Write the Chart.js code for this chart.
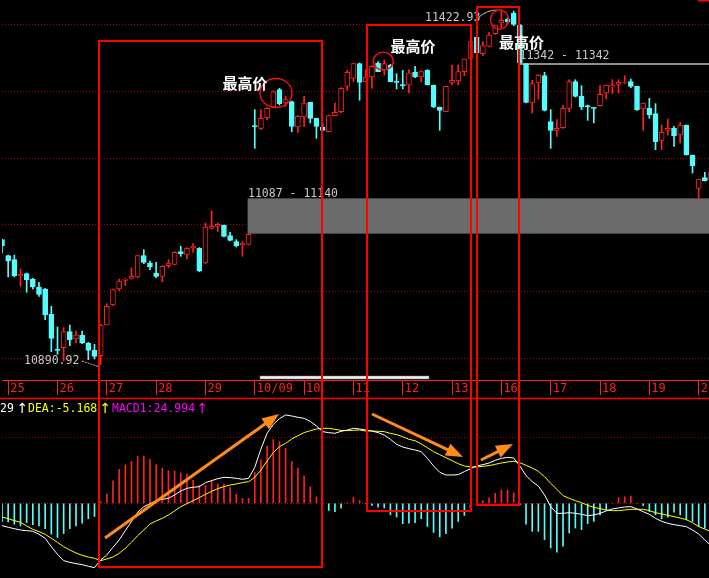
<!DOCTYPE html>
<html>
<head>
<meta charset="utf-8">
<script src="https://cdn.jsdelivr.net/npm/chart.js@4.4.1/dist/chart.umd.min.js"></script>
<style>
html, body { margin: 0; padding: 0; background: #000; overflow: hidden; }
#wrap { position: relative; width: 709px; height: 578px; overflow: hidden; background: #000; }
#wrap canvas { position: absolute; left: 0; }
#marks { position: absolute; left: 0; top: 0; }
.mono { font-family: "DejaVu Sans Mono", monospace; font-size: 11.5px; }
.up { font-family: "DejaVu Sans", sans-serif; font-size: 14px; }
.hi { font-family: "Noto Sans CJK SC", sans-serif; font-size: 15px; font-weight: bold; fill: #fff; }
</style>
</head>
<body>
<div id="wrap">
  <canvas id="priceChart" width="711" height="398" style="top:0"></canvas>
  <canvas id="macdChart" width="711" height="180" style="top:398px"></canvas>
  <svg id="marks" width="709" height="578" viewBox="0 0 709 578">
    <!-- 缺口 / 极值 标注 -->
    <text class="mono" x="248" y="196.5" fill="#c8c8c8">11087 - 11140</text>
    <text class="mono" x="519.5" y="59" fill="#c8c8c8">11342 - 11342</text>
    <text class="mono" x="425" y="20.5" fill="#c8c8c8">11422.93</text>
    <path d="M479,17 Q487,10 497,10" fill="none" stroke="#bbb" stroke-width="1"/>
    <text class="mono" x="24" y="364" fill="#c8c8c8">10890.92</text>
    <line x1="82" y1="361" x2="98" y2="366.5" stroke="#bbb" stroke-width="1" stroke-dasharray="2,1"/>
    <!-- 滚动条 -->
    <rect x="260" y="376" width="169" height="3" fill="#eee" stroke="#888" stroke-width="0.5"/>
    <!-- 分隔线 -->
    <line x1="0" y1="398.5" x2="709" y2="398.5" stroke="#ff0000" stroke-width="1.5"/>
    <rect x="698" y="0" width="11" height="1.5" fill="#ff0000"/>
    <!-- MACD 指标文字 -->
    <text class="mono" x="0" y="411.5" fill="#fff">29</text>
    <text class="up" x="16.5" y="412.5" fill="#fff">↑</text>
    <text class="mono" x="28" y="411.5" fill="#ffff00">DEA:-5.168</text>
    <text class="up" x="99.5" y="412.5" fill="#ffff00">↑</text>
    <text class="mono" x="112" y="411.5" fill="#ff00ff">MACD1:24.994</text>
    <text class="up" x="196.5" y="412.5" fill="#ff00ff">↑</text>
    <!-- 框 -->
    <g fill="none" stroke="#ff0000" stroke-width="2">
      <rect x="99" y="41" width="223" height="526"/>
      <rect x="367" y="25" width="104" height="486"/>
      <rect x="477" y="7" width="42" height="498"/>
    </g>
    <g fill="none" stroke="#e81010" stroke-width="1.5">
      <ellipse cx="276" cy="93" rx="16" ry="14.5"/>
      <ellipse cx="383.3" cy="61.2" rx="10" ry="9"/>
      <ellipse cx="499.5" cy="19.7" rx="9" ry="9.7"/>
    </g>
    <text class="hi" x="222.5" y="89">最高价</text>
    <text class="hi" x="390.5" y="51.5">最高价</text>
    <text class="hi" x="499" y="47.5">最高价</text>
    <g id="arrows"></g>
  </svg>
</div>
<script>
// 日期 (每天 8 根K线)
const days = ['25', '26', '27', '28', '29', '10/09', '10', '11', '12', '13', '16', '17', '18', '19', '20'];
const firstDay = 1;
const perDay = 8;

// K线数据
const open = [
  11078, 11054, 11048, 11024, 11027, 11019, 11007, 11004, 10966, 10914,
  10916, 10940, 10929, 10935, 10923, 10912, 10904, 10950, 10980, 11004,
  11017, 11020, 11022, 11054, 11043, 11028, 11023, 11039, 11041, 11060,
  11056, 11066, 11065, 11043, 11095, 11098, 11100, 11084, 11075, 11070,
  11071, 11249, 11245, 11261, 11277, 11303, 11283, 11285, 11247, 11262,
  11284, 11260, 11247, 11240, 11264, 11270, 11308, 11320, 11342, 11315,
  11322, 11343, 11333, 11340, 11315, 11310, 11310, 11329, 11322, 11332,
  11310, 11277, 11270, 11313, 11316, 11330, 11350, 11382, 11357, 11368,
  11387, 11403, 11409, 11418, 11400, 11342, 11283, 11313, 11324, 11255,
  11242, 11246, 11275, 11315, 11293, 11279, 11276, 11279, 11298, 11307,
  11311, 11313, 11315, 11308, 11274, 11275, 11267, 11227, 11242, 11245,
  11235, 11250, 11205, 11155, 11171, 11168
];
const high = [
  11079, 11055, 11055, 11034, 11028, 11020, 11014, 11005, 10978, 10947,
  10946, 10950, 10941, 10941, 10924, 10921, 10951, 10982, 11004, 11019,
  11020, 11036, 11055, 11063, 11046, 11044, 11039, 11048, 11060, 11068,
  11066, 11072, 11066, 11103, 11121, 11103, 11100, 11089, 11078, 11075,
  11087, 11273, 11273, 11276, 11301, 11305, 11293, 11286, 11264, 11293,
  11284, 11260, 11253, 11265, 11283, 11306, 11332, 11343, 11343, 11333,
  11339, 11345, 11348, 11341, 11327, 11332, 11333, 11338, 11331, 11333,
  11310, 11277, 11308, 11340, 11340, 11349, 11376, 11382, 11375, 11389,
  11399, 11422.93, 11411, 11421, 11401, 11342, 11317, 11326, 11329, 11273,
  11258, 11280, 11318, 11318, 11309, 11280, 11276, 11309, 11310, 11318,
  11318, 11324, 11319, 11308, 11283, 11290, 11282, 11250, 11259, 11248,
  11254, 11250, 11205, 11169, 11179, 11179
];
const low = [
  11058, 11022, 11022, 11008, 10999, 11004, 10993, 10958, 10910, 10906,
  10896, 10919, 10923, 10922, 10898, 10899, 10890.92, 10950, 10979, 11002,
  11009, 11019, 11021, 11042, 11033, 11021, 11015, 11036, 11040, 11053,
  11049, 11059, 11030, 11042, 11094, 11090, 11082, 11076, 11067, 11053,
  11070, 11215, 11243, 11258, 11276, 11280, 11278, 11240, 11239, 11248,
  11253, 11230, 11241, 11240, 11264, 11268, 11302, 11315, 11287, 11315,
  11305, 11330, 11325, 11315, 11304, 11304, 11298, 11321, 11315, 11310,
  11276, 11242, 11270, 11310, 11310, 11324, 11350, 11357, 11354, 11367,
  11386, 11395, 11402, 11399, 11342, 11283, 11268, 11289, 11271, 11215,
  11233, 11245, 11270, 11292, 11273, 11257, 11253, 11278, 11289, 11297,
  11298, 11312, 11306, 11272, 11242, 11260, 11213, 11213, 11235, 11218,
  11223, 11205, 11178, 11140, 11166, 11166
];
const close = [
  11069, 11046, 11024, 11026, 11018, 11007, 10996, 10965, 10930, 10912,
  10940, 10928, 10935, 10923, 10912, 10903, 10950, 10978, 11003, 11016,
  11019, 11023, 11054, 11044, 11037, 11023, 11038, 11043, 11059, 11057,
  11065, 11068, 11031, 11097, 11098, 11101, 11083, 11077, 11069, 11073,
  11086, 11247, 11260, 11275, 11300, 11282, 11288, 11248, 11263, 11283,
  11260, 11248, 11242, 11264, 11269, 11305, 11329, 11342, 11314, 11322,
  11338, 11330, 11342, 11315, 11314, 11309, 11328, 11322, 11330, 11310,
  11277, 11272, 11308, 11317, 11330, 11349, 11375, 11358, 11369, 11385,
  11399, 11407, 11405, 11401, 11343, 11284, 11312, 11325, 11272, 11242,
  11245, 11275, 11315, 11293, 11277, 11277, 11275, 11296, 11310, 11309,
  11314, 11314, 11308, 11273, 11283, 11265, 11225, 11239, 11245, 11234,
  11250, 11205, 11189, 11169, 11166, 11179
];

// MACD
const dif = [
  -4.06, -4.36, -4.61, -4.85, -4.97, -5.09, -5.64, -6.36, -7.88, -9.27,
  -10.42, -10.73, -10.97, -11.15, -11.45, -11.70, -10.30, -9.39, -8.00, -6.67,
  -4.97, -3.33, -1.64, -0.61, -0.06, 0.48, 0.73, 0.91, 1.52, 2.24,
  2.73, 2.91, 3.03, 3.76, 4.12, 4.48, 4.73, 4.67, 4.55, 4.36,
  4.55, 6.55, 9.88, 12.73, 14.36, 15.39, 16.06, 15.88, 15.64, 15.45,
  14.91, 14.06, 13.03, 12.85, 12.73, 13.09, 13.33, 13.64, 13.52, 13.33,
  13.15, 12.85, 12.42, 11.64, 10.73, 10.24, 9.94, 9.70, 9.39, 8.18,
  6.79, 5.64, 5.15, 5.15, 5.21, 5.76, 6.30, 6.79, 7.03, 7.33,
  7.82, 8.18, 8.36, 8.24, 6.79, 5.03, 3.94, 3.15, 1.52, -0.61,
  -1.82, -1.82, -1.70, -1.82, -2.00, -2.24, -2.12, -1.82, -1.39, -1.03,
  -0.85, -0.67, -0.61, -1.03, -1.52, -2.00, -2.73, -3.27, -3.64, -3.88,
  -4.06, -4.24, -4.85, -5.58, -6.67, -7.70
];
const dea = [
  -2.48, -2.79, -3.15, -3.45, -4.12, -4.73, -5.15, -5.64, -6.36, -7.09,
  -7.88, -8.48, -9.03, -9.45, -9.76, -10.00, -10.42, -10.12, -9.76, -9.09,
  -8.18, -7.09, -5.88, -4.85, -3.76, -3.21, -2.73, -2.12, -1.39, -0.61,
  -0.06, 0.48, 1.03, 1.64, 2.18, 2.67, 3.03, 3.33, 3.52, 3.76,
  3.94, 4.73, 6.06, 7.70, 9.21, 10.30, 10.91, 11.70, 12.30, 12.85,
  13.21, 13.52, 13.64, 13.64, 13.45, 13.27, 13.21, 13.27, 13.33, 13.15,
  13.15, 13.09, 13.03, 12.73, 12.48, 12.12, 11.64, 11.39, 10.79, 10.12,
  9.39, 8.85, 8.30, 7.76, 7.21, 6.79, 6.61, 6.61, 6.73, 6.85,
  7.09, 7.33, 7.52, 7.64, 7.39, 6.91, 6.42, 5.82, 4.85, 3.64,
  2.55, 1.39, 0.91, 0.48, 0.12, -0.36, -0.73, -0.97, -1.21, -1.33,
  -1.33, -1.21, -1.09, -1.09, -1.09, -1.33, -1.70, -1.94, -2.18, -2.42,
  -2.67, -2.97, -3.52, -4.24, -4.67, -5.15
];
const macd = [
  -3.4, -3.4, -3.8, -4.1, -3.5, -3.9, -4.1, -4.6, -5.6, -6.2,
  -5.5, -4.6, -4.1, -3.6, -2.8, -2.4, 0.3, 1.7, 4.1, 6.2,
  7.0, 7.6, 8.6, 8.6, 8.0, 7.0, 6.4, 5.9, 5.9, 5.5,
  5.3, 4.2, 3.3, 3.3, 4.2, 3.5, 3.5, 2.9, 1.7, 0.9,
  0.9, 5.6, 7.9, 10.4, 11.6, 11.2, 10.0, 7.6, 6.4, 5.0,
  3.0, 1.2, 0.2, -1.3, -1.5, -0.9, 0.1, 1.1, 0.5, -0.1,
  -0.4, -0.7, -0.85, -2.1, -2.5, -3.7, -3.6, -3.5, -2.8, -4.2,
  -5.3, -6.1, -5.5, -4.5, -3.3, -2.2, -0.85, 0.2, 0.5, 1.0,
  1.8, 2.4, 2.4, 1.9, -0.3, -3.8, -5.1, -5.1, -6.6, -8.1,
  -8.9, -7.8, -5.4, -4.5, -4.8, -3.7, -3.3, -2.1, -1.2, 0.1,
  1.0, 1.2, 1.3, 0.1, -0.4, -1.5, -2.1, -2.8, -2.5, -1.6,
  -2.1, -3.0, -3.3, -4.2, -4.5, -4.9
];

const priceGrid = [10900, 11000, 11100, 11200, 11300, 11400];
const macdGrid = [0, 12];
const band = [11087, 11140];   // 灰色区间
const bandFrom = 40;
const gapPrice = 11342;        // 11342 - 11342
const gapFrom = 84;

const RED = '#ff2020';
const CYAN = '#54fcfc';
const GRID = '#b00000';

// 每天第一根K线显示日期
const labels = open.map((_, i) => {
  const k = i - firstDay;
  return k >= 0 && k % perDay === 0 ? days[k / perDay] : '';
});
const isUp = i => close[i] >= open[i];

// 灰色区间 + 缺口线
const zonePlugin = {
  id: 'zones',
  beforeDatasetsDraw(chart) {
    const { ctx, chartArea, scales: { x, y } } = chart;
    ctx.save();
    ctx.fillStyle = '#6b6b6b';
    const bx = x.getPixelForValue(bandFrom) - 1;
    const by0 = y.getPixelForValue(band[1]);
    const by1 = y.getPixelForValue(band[0]);
    ctx.fillRect(bx, by0, chartArea.right - bx, by1 - by0);
    ctx.strokeStyle = '#8c8c8c';
    ctx.lineWidth = 2;
    const gy = Math.round(y.getPixelForValue(gapPrice));
    ctx.beginPath();
    ctx.moveTo(x.getPixelForValue(gapFrom), gy);
    ctx.lineTo(chartArea.right, gy);
    ctx.stroke();
    ctx.restore();
  }
};

new Chart(document.getElementById('priceChart'), {
  type: 'bar',
  data: {
    labels: labels,
    datasets: [
      {
        label: 'body',
        data: open.map((o, i) => [o, close[i]]),
        backgroundColor: c => isUp(c.dataIndex) ? '#000' : CYAN,
        borderColor: c => isUp(c.dataIndex) ? RED : CYAN,
        borderWidth: 1,
        borderSkipped: false,
        barThickness: 5,
        minBarLength: 1,
        grouped: false,
        order: 0
      },
      {
        label: 'wick',
        data: low.map((l, i) => [l, high[i]]),
        backgroundColor: c => isUp(c.dataIndex) ? RED : CYAN,
        borderWidth: 0,
        barThickness: 1,
        grouped: false,
        order: 1
      }
    ]
  },
  options: {
    responsive: false,
    animation: false,
    events: [],
    devicePixelRatio: 1,
    layout: { padding: { left: 2, right: 0, top: 0, bottom: 0 } },
    plugins: { legend: { display: false }, tooltip: { enabled: false } },
    scales: {
      x: {
        type: 'category',
        offset: false,
        grid: {
          offset: false,
          drawOnChartArea: false,
          drawTicks: true,
          tickLength: 15,
          color: c => labels[c.index] ? RED : 'rgba(0,0,0,0)'
        },
        border: { color: RED, width: 1 },
        ticks: {
          autoSkip: false,
          maxRotation: 0,
          minRotation: 0,
          align: 'start',
          labelOffset: 2,
          padding: -13,
          color: RED,
          font: { family: 'DejaVu Sans Mono', size: 12 },
          callback: (v, i) => labels[i]
        },
        afterFit: s => { s.height = 18; }
      },
      y: {
        min: 10867.5,
        max: 11437.5,
        afterBuildTicks: s => { s.ticks = priceGrid.map(v => ({ value: v })); },
        grid: { color: GRID, lineWidth: 1, drawTicks: false },
        border: { display: false, dash: [1, 2] },
        ticks: { display: false },
        afterFit: s => { s.width = 0; }
      }
    }
  },
  plugins: [zonePlugin]
});

new Chart(document.getElementById('macdChart'), {
  type: 'bar',
  data: {
    labels: labels,
    datasets: [
      {
        type: 'line',
        label: 'DIF',
        data: dif,
        borderColor: '#ffffff',
        borderWidth: 1,
        pointRadius: 0,
        tension: 0,
        order: 0
      },
      {
        type: 'line',
        label: 'DEA',
        data: dea,
        borderColor: '#ffff00',
        borderWidth: 1,
        pointRadius: 0,
        tension: 0,
        order: 1
      },
      {
        label: 'MACD',
        data: macd,
        backgroundColor: c => macd[c.dataIndex] >= 0 ? RED : CYAN,
        barThickness: 1,
        borderWidth: 0,
        order: 2
      }
    ]
  },
  options: {
    responsive: false,
    animation: false,
    events: [],
    devicePixelRatio: 1,
    layout: { padding: { left: 2, right: 0, top: 0, bottom: 0 } },
    plugins: { legend: { display: false }, tooltip: { enabled: false } },
    scales: {
      x: { type: 'category', offset: false, display: false },
      y: {
        min: -13.58,
        max: 19.15,
        afterBuildTicks: s => { s.ticks = macdGrid.map(v => ({ value: v })); },
        grid: { color: GRID, lineWidth: 1, drawTicks: false },
        border: { display: false, dash: [1, 2] },
        ticks: { display: false },
        afterFit: s => { s.width = 0; }
      }
    }
  }
});

// 橙色箭头
const arrows = [
  [105, 538, 279, 414],
  [372, 414, 463, 457],
  [481, 460, 513, 444]
];
const g = document.getElementById('arrows');
const NS = 'http://www.w3.org/2000/svg';
arrows.forEach(([x1, y1, x2, y2]) => {
  const dx = x2 - x1, dy = y2 - y1, len = Math.hypot(dx, dy);
  const ux = dx / len, uy = dy / len, nx = -uy, ny = ux;
  const L = 17, W = 13;
  const bx = x2 - ux * L, by = y2 - uy * L;
  const line = document.createElementNS(NS, 'line');
  line.setAttribute('x1', x1); line.setAttribute('y1', y1);
  line.setAttribute('x2', bx + ux * 4); line.setAttribute('y2', by + uy * 4);
  line.setAttribute('stroke', '#ff8c1a'); line.setAttribute('stroke-width', 3);
  g.appendChild(line);
  const head = document.createElementNS(NS, 'polygon');
  head.setAttribute('points', `${x2},${y2} ${bx + nx * W / 2},${by + ny * W / 2} ${bx - nx * W / 2},${by - ny * W / 2}`);
  head.setAttribute('fill', '#ff8c1a');
  g.appendChild(head);
});
</script>
</body>
</html>
